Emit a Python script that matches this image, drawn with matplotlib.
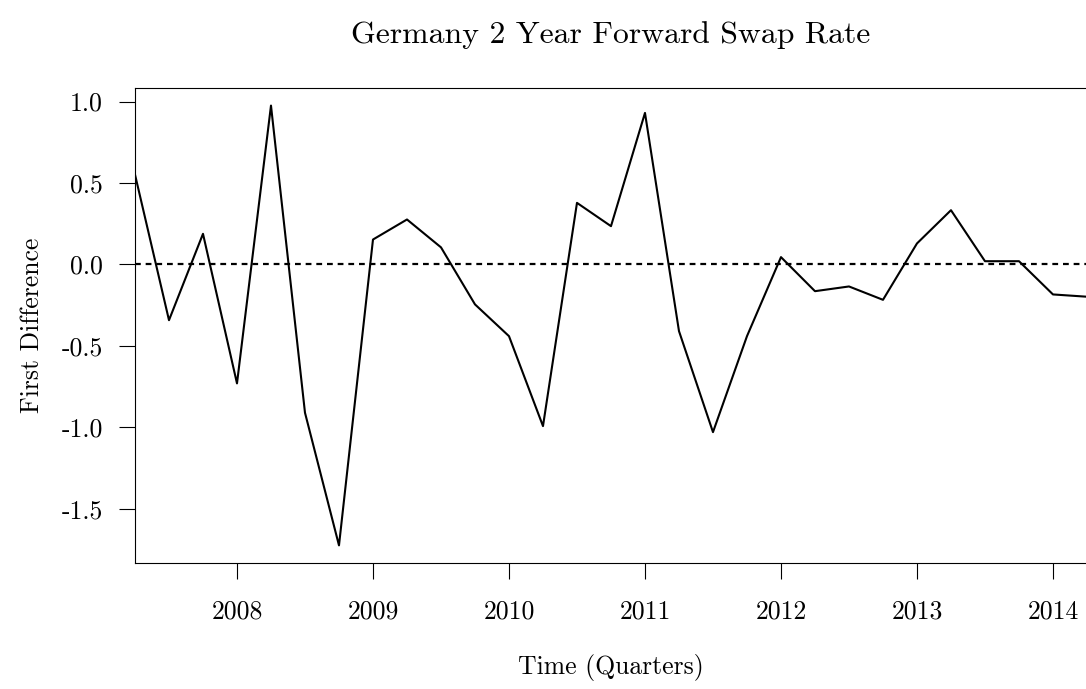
import matplotlib
matplotlib.use('Agg')
import matplotlib.pyplot as plt
import numpy as np

# quarterly first differences, 2007 Q2 .. 2014 Q2
start_year = 2007.25
first_diff = [0.552, -0.342, 0.188, -0.730, 0.975, -0.910, -1.724, 0.153,
              0.276, 0.105, -0.245, -0.440, -0.992, 0.378, 0.235, 0.930,
              -0.409, -1.029, -0.440, 0.045, -0.164, -0.135, -0.217, 0.129,
              0.333, 0.020, 0.020, -0.184, -0.198]
year_ticks = [2008, 2009, 2010, 2011, 2012, 2013, 2014]
y_ticks = [1.0, 0.5, 0.0, -0.5, -1.0, -1.5]

plt.rcParams['font.family'] = ['cmr10', 'DejaVu Serif']
plt.rcParams['axes.unicode_minus'] = False

t = start_year + 0.25 * np.arange(len(first_diff))
y = np.array(first_diff)

fig = plt.figure(figsize=(10.86, 6.89), dpi=100)
ax_left, ax_width = 0.1243, 0.8766
ax = fig.add_axes([ax_left, 0.1829, ax_width, 0.6894])

ax.plot(t, y, color='black', lw=1.5)
ax.axhline(0, color='black', lw=1.6, linestyle=(0, (2.6, 2.2)))

# R style limits: x exact, y padded by 4%
ax.set_xlim(t[0], t[-1])
pad = 0.04 * (y.max() - y.min())
ax.set_ylim(y.min() - pad, y.max() + pad)

ax.set_xticks(year_ticks)
ax.set_xticklabels([str(v) for v in year_ticks])
ax.set_yticks(y_ticks)
ax.set_yticklabels([f'{v:.1f}' for v in y_ticks])

ax.tick_params(axis='x', length=11.5, width=0.8, pad=15, labelsize=18.5)
ax.tick_params(axis='y', length=11.5, width=0.8, pad=11.5, labelsize=18.5)
for s in ax.spines.values():
    s.set_linewidth(0.8)

ax.set_xlabel('Time (Quarters)', fontsize=18.5, labelpad=22)
ax.set_ylabel('First Difference', fontsize=18.5, labelpad=13)
fig.text(ax_left + ax_width / 2, 0.970, 'Germany 2 Year Forward Swap Rate',
         fontsize=22.8, ha='center', va='top')

fig.savefig('out.png', dpi=100)
